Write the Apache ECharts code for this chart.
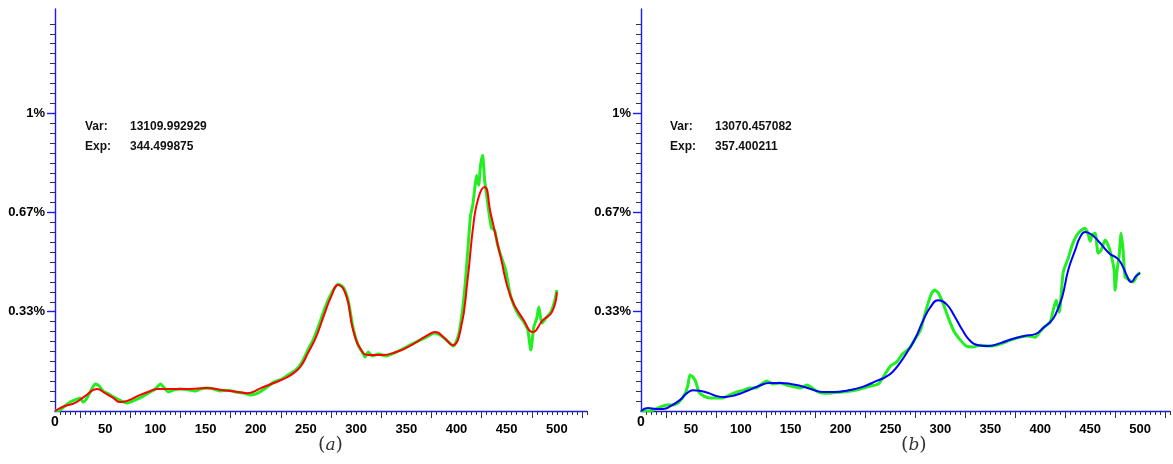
<!DOCTYPE html>
<html>
<head>
<meta charset="utf-8">
<style>
  html, body { margin: 0; padding: 0; background: #ffffff; }
  #chart { width: 1173px; height: 464px; }
</style>
<script src="https://cdn.jsdelivr.net/npm/echarts@6/dist/echarts.min.js"></script>
</head>
<body>
<div id="chart"></div>
<script>
// ---- panel (a): raw spectrum (green) and fitted curve (red), values in percent ----
const rawAX = [0,5,10,15,20,25,28,32,36,40,44,48,52,60,66,72,80,88,95,100,105,109,113,118,125,135,140,145,152,158,165,172,180,188,195,202,210,218,226,232,240,246,252,258,264,270,276,282,287,292,297,302,306,309,312,316,322,330,340,350,360,370,378,385,392,397,402,406,409,412,414,416,418,420,422,424,426,428,430,432,435,438,441,445,449,453,457,462,467,471,474,477,480,482,485,489,494,498,500];
const rawAY = [0,0.003,0.017,0.030,0.037,0.044,0.030,0.044,0.070,0.091,0.084,0.067,0.060,0.044,0.034,0.027,0.037,0.050,0.064,0.074,0.091,0.077,0.064,0.070,0.074,0.070,0.067,0.074,0.077,0.074,0.067,0.070,0.064,0.060,0.054,0.060,0.077,0.097,0.107,0.121,0.138,0.164,0.205,0.245,0.299,0.356,0.399,0.426,0.416,0.372,0.278,0.221,0.198,0.181,0.198,0.185,0.191,0.185,0.198,0.215,0.232,0.248,0.262,0.252,0.232,0.218,0.255,0.339,0.440,0.574,0.658,0.688,0.742,0.792,0.758,0.826,0.859,0.775,0.725,0.674,0.614,0.607,0.557,0.513,0.473,0.399,0.356,0.322,0.299,0.272,0.205,0.282,0.312,0.349,0.295,0.312,0.332,0.372,0.406];

const fitAX = [0,5,10,20,30,42,50,58,65,72,85,95,102,115,135,150,168,182,192,205,218,230,238,245,252,260,268,275,282,290,297,305,312,325,340,355,370,379,388,396,404,411,417,422,428,434,444,454,467,476,486,495,500];
const fitAY = [0,0.010,0.017,0.027,0.050,0.074,0.060,0.044,0.030,0.034,0.054,0.067,0.074,0.074,0.074,0.077,0.070,0.064,0.060,0.077,0.094,0.111,0.128,0.151,0.195,0.248,0.322,0.383,0.423,0.389,0.272,0.205,0.188,0.188,0.198,0.221,0.252,0.265,0.245,0.221,0.272,0.440,0.631,0.718,0.752,0.664,0.517,0.383,0.305,0.265,0.305,0.332,0.399];

// ---- panel (b): raw spectrum (green) and fitted curve (blue), values in percent ----
const rawBX = [0,5,12,19,26,32,38,44,47,49,52,55,58,63,69,76,82,89,96,103,109,115,121,126,132,139,146,153,160,166,170,176,183,190,200,210,220,230,238,244,250,256,262,269,275,280,285,290,294,298,303,308,314,320,326,332,340,350,360,370,380,388,395,400,405,410,413,416,419,423,428,432,436,440,445,448,450,452,455,458,461,465,468,471,474,475,477,479,481,483,485,489,493,497,500];
const rawBY = [0,0,0.003,0.013,0.020,0.020,0.030,0.057,0.087,0.121,0.114,0.097,0.064,0.050,0.044,0.044,0.044,0.054,0.064,0.070,0.077,0.077,0.091,0.101,0.091,0.094,0.087,0.081,0.077,0.087,0.081,0.067,0.060,0.060,0.064,0.067,0.074,0.084,0.091,0.121,0.151,0.164,0.191,0.211,0.245,0.272,0.332,0.386,0.406,0.396,0.359,0.312,0.265,0.238,0.218,0.215,0.221,0.218,0.225,0.238,0.248,0.252,0.248,0.268,0.285,0.299,0.339,0.372,0.332,0.466,0.513,0.557,0.587,0.604,0.614,0.594,0.570,0.591,0.597,0.530,0.540,0.574,0.557,0.524,0.473,0.406,0.473,0.520,0.597,0.540,0.450,0.440,0.433,0.456,0.466];

const fitBX = [0,7,15,22,30,39,46,52,60,68,76,84,95,106,118,129,140,150,160,170,182,195,208,222,236,245,252,260,268,275,282,290,298,306,314,322,330,338,348,360,372,384,395,404,410,415,422,428,435,440,445,452,460,469,478,483,487,491,496,500];
const fitBY = [0,0.010,0.007,0.007,0.017,0.037,0.060,0.070,0.067,0.060,0.050,0.047,0.054,0.067,0.084,0.094,0.094,0.091,0.084,0.074,0.064,0.064,0.070,0.081,0.101,0.114,0.131,0.164,0.205,0.245,0.299,0.349,0.372,0.359,0.319,0.272,0.235,0.221,0.218,0.228,0.242,0.252,0.258,0.282,0.299,0.322,0.383,0.473,0.540,0.584,0.601,0.591,0.564,0.530,0.510,0.483,0.453,0.433,0.453,0.463];

// ---- axis ticks and labels ----
const xLabelValues = [50,100,150,200,250,300,350,400,450,500];
const xLongTicks = [25,75,125,175,225,275,325,375,425,475,525];
const yLabelValues = [1/3, 2/3, 1];
const yLabelTexts = ['0.33%', '0.67%', '1%'];

// ---- statistics printed inside each panel ----
const statNames = ['Var:', 'Exp:'];
const statsA = ['13109.992929', '344.499875'];
const statsB = ['13070.457082', '357.400211'];
const captions = ['a', 'b'];

const X_MAX = 530, Y_MAX = 1.35;
const AXIS_BLUE = '#1a1aff';
const TICK_GRAY = '#333333';
const LABEL_FONT = { fontFamily: 'Liberation Sans, Arial, sans-serif', fontWeight: 'bold', fontSize: 13, color: '#000000' };

const xMinor = [];
for (let v = 5; v <= X_MAX; v += 5) if (!xLongTicks.includes(v)) xMinor.push(v);
const yMinor = [];
for (let k = 1; k / 30 <= Y_MAX + 1e-9; k++) if (k % 10 !== 0) yMinor.push(k / 30);

const zip = (xs, ys) => xs.map((x, i) => [x, ys[i]]);

function panelAxes(gridIndex) {
  const xs = [
    { // main horizontal axis with short ticks and labels
      type: 'value', gridIndex, min: 0, max: X_MAX, position: 'bottom',
      axisLine: { show: true, lineStyle: { color: AXIS_BLUE, width: 1.4 } },
      axisTick: { show: true, length: 4, customValues: xMinor, lineStyle: { color: TICK_GRAY } },
      axisLabel: Object.assign({ show: true, margin: 12, customValues: xLabelValues }, LABEL_FONT),
      splitLine: { show: false }
    },
    { // long ticks and the origin label
      type: 'value', gridIndex, min: 0, max: X_MAX, position: 'bottom',
      axisLine: { show: false },
      axisTick: { show: true, length: 7, customValues: xLongTicks, lineStyle: { color: TICK_GRAY } },
      axisLabel: Object.assign({ show: true, margin: 4, customValues: [0] }, LABEL_FONT, { fontSize: 14 }),
      splitLine: { show: false }
    }
  ];
  const ys = [
    { // main vertical axis with minor ticks
      type: 'value', gridIndex, min: 0, max: Y_MAX, position: 'left',
      axisLine: { show: true, lineStyle: { color: AXIS_BLUE, width: 1.4 } },
      axisTick: { show: true, length: 5, customValues: yMinor, lineStyle: { color: TICK_GRAY } },
      axisLabel: { show: false },
      splitLine: { show: false }
    },
    { // blue major ticks with percent labels
      type: 'value', gridIndex, min: 0, max: Y_MAX, position: 'left',
      axisLine: { show: false },
      axisTick: { show: true, length: 8, customValues: yLabelValues, lineStyle: { color: AXIS_BLUE, width: 1.4 } },
      axisLabel: Object.assign({
        show: true, margin: 10, customValues: yLabelValues,
        formatter: v => yLabelTexts[yLabelValues.findIndex(t => Math.abs(t - v) < 1e-6)] || ''
      }, LABEL_FONT),
      splitLine: { show: false }
    }
  ];
  return { xs, ys };
}

const pA = panelAxes(0), pB = panelAxes(1);

function lineSeries(data, color, width, xi, yi, smooth, z) {
  return {
    type: 'line', data, xAxisIndex: xi, yAxisIndex: yi, smooth,
    showSymbol: false, symbol: 'none', z,
    lineStyle: { color, width }, animation: false
  };
}

function statText(names, values, left, top) {
  const out = [];
  names.forEach((n, i) => {
    out.push({ type: 'text', left, top: top + i * 20,
      style: { text: n, font: 'bold 12px "Liberation Sans", Arial, sans-serif', fill: '#111' } });
    out.push({ type: 'text', left: left + 45, top: top + i * 20,
      style: { text: values[i], font: 'bold 12px "Liberation Sans", Arial, sans-serif', fill: '#111' } });
  });
  return out;
}

function caption(letter, centerX) {
  return {
    type: 'text', left: centerX - 12, top: 436,
    style: {
      text: '{p|(}{l|' + letter + '}{p|)}',
      rich: {
        p: { font: '19px "DejaVu Serif", "Liberation Serif", serif', fill: '#333' },
        l: { font: 'italic 17px "DejaVu Serif", "Liberation Serif", serif', fill: '#333' }
      }
    }
  };
}

const option = {
  backgroundColor: '#ffffff',
  animation: false,
  grid: [
    { left: 55, top: 9, width: 532, height: 402, containLabel: false },
    { left: 641, top: 9, width: 529, height: 402, containLabel: false }
  ],
  xAxis: [...pA.xs, ...pB.xs],
  yAxis: [...pA.ys, ...pB.ys],
  series: [
    lineSeries(zip(rawAX, rawAY), '#22ee22', 3, 0, 0, 0.2, 2),
    lineSeries(zip(fitAX, fitAY), '#ff0000', 2, 0, 0, 0.5, 3),
    lineSeries(zip(rawBX, rawBY), '#22ee22', 3, 2, 2, 0.2, 2),
    lineSeries(zip(fitBX, fitBY), '#0000ff', 2, 2, 2, 0.5, 3)
  ],
  graphic: [
    ...statText(statNames, statsA, 85, 121),
    ...statText(statNames, statsB, 670, 121),
    caption(captions[0], 330),
    caption(captions[1], 913)
  ]
};

const chart = echarts.init(document.getElementById('chart'), null, { renderer: 'canvas' });
chart.setOption(option);
</script>
</body>
</html>
